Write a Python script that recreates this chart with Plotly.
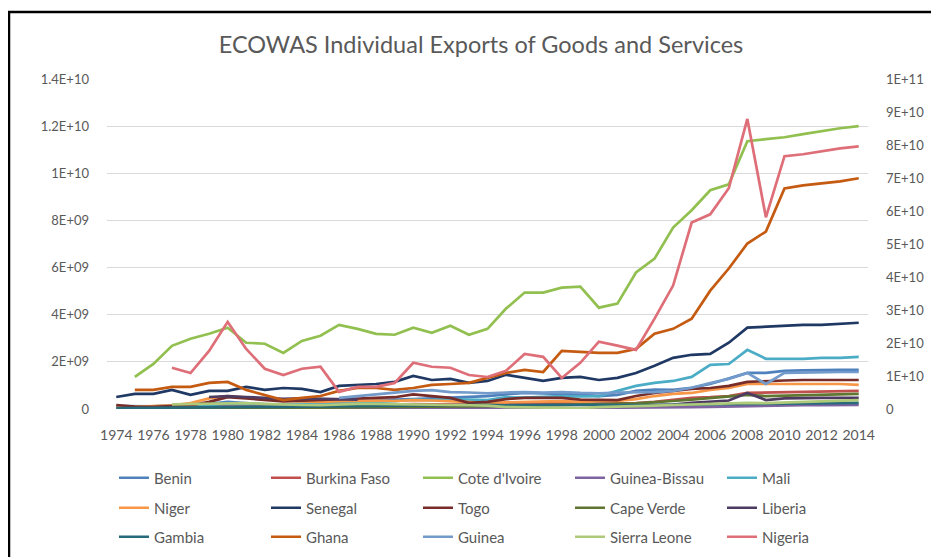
import plotly.graph_objects as go

years = list(range(1974, 2015))

# Exports of goods and services, billions of US$
benin = [0.12, 0.10, 0.11, 0.14, 0.17, 0.22, 0.30, 0.24, 0.20, 0.18, 0.22, 0.25, 0.28, 0.32, 0.36, 0.40,
         0.42, 0.45, 0.48, 0.52, 0.55, 0.62, 0.68, 0.66, 0.64, 0.62, 0.55, 0.60, 0.77, 0.82, 0.81, 0.90,
         1.06, 1.30, 1.53, 1.53, 1.62, 1.64, 1.66, 1.66, 1.66]
burkina_faso = [0.10, 0.09, 0.08, 0.09, 0.10, 0.12, 0.14, 0.13, 0.12, 0.11, 0.12, 0.12, 0.14, 0.16, 0.18,
                0.19, 0.21, 0.20, 0.19, 0.20, 0.18, 0.20, 0.22, 0.24, 0.26, 0.22, 0.22, 0.22, 0.25, 0.30,
                0.40, 0.47, 0.50, 0.55, 0.68, 0.70, 0.72, 0.74, 0.76, 0.77, 0.77]
cote_divoire = [None, 1.36, 1.91, 2.68, 2.98, 3.19, 3.45, 2.81, 2.77, 2.38, 2.89, 3.11, 3.57, 3.40, 3.19,
                3.15, 3.45, 3.23, 3.53, 3.15, 3.40, 4.26, 4.94, 4.94, 5.15, 5.19, 4.30, 4.47, 5.79, 6.38,
                7.70, 8.43, 9.28, 9.53, 11.36, 11.45, 11.53, 11.66, 11.79, 11.91, 12.00]
guinea_bissau = [0.01, 0.01, 0.01, 0.01, 0.01, 0.01, 0.01, 0.01, 0.01, 0.01, 0.01, 0.01, 0.02, 0.02, 0.02,
                 0.02, 0.02, 0.02, 0.02, 0.02, 0.03, 0.03, 0.03, 0.04, 0.03, 0.04, 0.05, 0.05, 0.05, 0.06,
                 0.07, 0.08, 0.09, 0.11, 0.13, 0.14, 0.15, 0.16, 0.16, 0.17, 0.17]
mali = [0.08, 0.10, 0.12, 0.15, 0.14, 0.17, 0.22, 0.20, 0.18, 0.19, 0.21, 0.22, 0.25, 0.28, 0.31, 0.33,
        0.40, 0.38, 0.42, 0.40, 0.38, 0.50, 0.48, 0.52, 0.55, 0.53, 0.55, 0.77, 0.98, 1.11, 1.19, 1.36,
        1.87, 1.91, 2.51, 2.13, 2.13, 2.13, 2.17, 2.17, 2.21]
niger = [0.06, 0.08, 0.10, 0.15, 0.25, 0.45, 0.55, 0.48, 0.40, 0.35, 0.32, 0.30, 0.33, 0.35, 0.36, 0.34,
         0.38, 0.36, 0.33, 0.30, 0.26, 0.28, 0.30, 0.30, 0.33, 0.30, 0.34, 0.34, 0.42, 0.55, 0.64, 0.68,
         0.81, 0.89, 1.06, 1.06, 1.06, 1.06, 1.06, 1.06, 1.02]
senegal = [0.51, 0.64, 0.64, 0.81, 0.60, 0.77, 0.77, 0.94, 0.81, 0.89, 0.85, 0.72, 0.98, 1.02, 1.06, 1.15,
           1.40, 1.23, 1.28, 1.11, 1.19, 1.45, 1.32, 1.19, 1.32, 1.36, 1.23, 1.32, 1.53, 1.83, 2.17, 2.30,
           2.34, 2.81, 3.45, 3.49, 3.53, 3.57, 3.57, 3.62, 3.66]
togo = [0.17, 0.10, 0.09, 0.12, 0.15, 0.30, 0.50, 0.45, 0.38, 0.32, 0.35, 0.38, 0.40, 0.42, 0.45, 0.50,
        0.62, 0.55, 0.47, 0.26, 0.30, 0.42, 0.47, 0.47, 0.47, 0.40, 0.38, 0.38, 0.55, 0.68, 0.77, 0.85,
        0.89, 0.98, 1.15, 1.19, 1.21, 1.23, 1.23, 1.23, 1.23]
cape_verde = [None, None, None, 0.02, 0.02, 0.03, 0.03, 0.04, 0.04, 0.05, 0.05, 0.06, 0.07, 0.08, 0.09,
              0.10, 0.10, 0.11, 0.11, 0.12, 0.12, 0.13, 0.14, 0.16, 0.17, 0.19, 0.20, 0.22, 0.24, 0.28,
              0.34, 0.40, 0.47, 0.55, 0.60, 0.55, 0.57, 0.60, 0.62, 0.62, 0.64]
liberia = [None, None, None, None, None, 0.51, 0.55, 0.51, 0.47, 0.43, 0.45, 0.43, 0.40, 0.40, None,
           None, None, None, None, None, None, None, None, None, None, None, 0.10, 0.12, 0.14, 0.17,
           0.19, 0.26, 0.30, 0.36, 0.68, 0.38, 0.45, 0.47, 0.47, 0.47, 0.47]
gambia = [0.04, 0.05, 0.05, 0.06, 0.07, 0.07, 0.08, 0.08, 0.09, 0.09, 0.10, 0.10, 0.11, 0.12, 0.13, 0.14,
          0.15, 0.16, 0.17, 0.17, 0.18, 0.16, 0.17, 0.18, 0.19, 0.19, 0.18, 0.17, 0.16, 0.17, 0.18, 0.19,
          0.20, 0.21, 0.22, 0.24, 0.25, 0.26, 0.26, 0.26, 0.26]
ghana = [None, 0.81, 0.81, 0.94, 0.94, 1.11, 1.15, 0.81, 0.60, 0.38, 0.47, 0.55, 0.77, 0.89, 0.89, 0.81,
         0.89, 1.02, 1.06, 1.11, 1.32, 1.53, 1.66, 1.57, 2.47, 2.43, 2.38, 2.38, 2.55, 3.19, 3.40, 3.83,
         5.02, 5.96, 7.02, 7.53, 9.36, 9.49, 9.57, 9.66, 9.79]
guinea = [None, None, None, None, None, None, None, None, None, None, None, None, 0.47, 0.55, 0.62, 0.70,
          0.77, 0.80, 0.72, 0.70, 0.66, 0.70, 0.72, 0.70, 0.72, 0.68, 0.66, 0.70, 0.70, 0.72, 0.77, 0.90,
          1.10, 1.28, 1.53, 1.06, 1.53, 1.55, 1.57, 1.57, 1.57]
sierra_leone = [None, None, None, 0.20, 0.22, 0.24, 0.26, 0.25, 0.22, 0.18, 0.17, 0.16, 0.20, 0.22, 0.22,
                0.20, 0.21, 0.19, 0.17, 0.16, 0.14, 0.08, 0.07, 0.05, 0.05, 0.04, 0.08, 0.09, 0.11, 0.14,
                0.17, 0.19, 0.22, 0.25, 0.26, 0.25, 0.28, 0.30, 0.34, 0.36, 0.38]
nigeria = [None, None, None, 12.5, 10.9, 17.6, 26.4, 18.2, 12.2, 10.3, 12.2, 12.8, 5.2, 6.7, 6.7, 7.9,
           14.0, 12.8, 12.5, 10.3, 9.7, 11.6, 16.7, 15.8, 9.4, 14.0, 20.4, 19.2, 17.9, 27.4, 37.4, 56.5,
           59.0, 66.9, 87.9, 58.1, 76.6, 77.2, 78.1, 79.0, 79.6]  # secondary axis

names = ["Benin", "Burkina Faso", "Cote d'Ivoire", "Guinea-Bissau", "Mali",
         "Niger", "Senegal", "Togo", "Cape Verde", "Liberia",
         "Gambia", "Ghana", "Guinea", "Sierra Leone", "Nigeria"]
series = [benin, burkina_faso, cote_divoire, guinea_bissau, mali,
          niger, senegal, togo, cape_verde, liberia,
          gambia, ghana, guinea, sierra_leone, nigeria]
colors = ["#4F81BD", "#C0504D", "#92C050", "#8064A2", "#4BACC6",
          "#F79646", "#1F3864", "#772C2A", "#5F7530", "#4D3B62",
          "#276A7C", "#C55A11", "#729ACA", "#AFC97A", "#DE6E78"]
secondary = ["Nigeria"]

left_tickvals = [0, 2, 4, 6, 8, 10, 12, 14]
left_ticktext = ["0", "2E+09", "4E+09", "6E+09", "8E+09", "1E+10", "1.2E+10", "1.4E+10"]
right_tickvals = [0, 10, 20, 30, 40, 50, 60, 70, 80, 90, 100]
right_ticktext = ["0", "1E+10", "2E+10", "3E+10", "4E+10", "5E+10", "6E+10", "7E+10", "8E+10", "9E+10", "1E+11"]

FONT = "Lato, 'Open Sans', sans-serif"
GREY = "#595959"

fig = go.Figure()
legend_ids = ["legend", "legend2", "legend3"]
for i, (name, vals, col) in enumerate(zip(names, series, colors)):
    fig.add_trace(go.Scatter(
        x=years, y=vals, name=name, mode="lines",
        line=dict(color=col, width=2.7),
        yaxis="y2" if name in secondary else "y",
        legend=legend_ids[i // 5],
        connectgaps=False,
    ))

# the page body has an 8px margin: the figure is drawn 8px right/down
OFF = 8
W, H = 939 - OFF, 557 - OFF
L, R, T, B = 107 - OFF, 71, 79 - OFF, 148
pw, ph = W - L - R, H - T - B

def px_x(p):  # p: pixel in screenshot coordinates
    return (p - OFF - L) / pw

def px_y(p):
    return (H - B - (p - OFF)) / ph

legend_common = dict(orientation="h", xanchor="left", yanchor="middle",
                     font=dict(family=FONT, size=15, color=GREY),
                     entrywidth=107, entrywidthmode="pixels",
                     bgcolor="rgba(0,0,0,0)", itemwidth=30)

fig.update_layout(
    width=W, height=H,
    margin=dict(l=L, r=R, t=T, b=B, autoexpand=False),
    paper_bgcolor="white", plot_bgcolor="white",
    font=dict(family=FONT, color=GREY),
    title=dict(text="ECOWAS Individual Exports of Goods and Services",
               x=(481 - OFF) / W, xanchor="center", y=1 - (45 - OFF) / H, yanchor="middle",
               font=dict(family=FONT, size=23.5, color=GREY)),
    xaxis=dict(range=[1973.5, 2014.5], tick0=1974, dtick=2, showgrid=False,
               zeroline=False, showline=False, ticks="", automargin=False,
               tickfont=dict(family=FONT, size=14, color=GREY),
               ticklabelstandoff=16),
    yaxis=dict(range=[0, 14], tickvals=left_tickvals, ticktext=left_ticktext,
               showgrid=True, gridcolor="#D9D9D9", gridwidth=1, automargin=False,
               zeroline=False, showline=False, ticks="",
               tickfont=dict(family=FONT, size=13, color=GREY),
               ticklabelstandoff=17),
    yaxis2=dict(range=[0, 100], tickvals=right_tickvals, ticktext=right_ticktext,
                overlaying="y", side="right", showgrid=False, zeroline=False,
                showline=False, ticks="", automargin=False,
                tickfont=dict(family=FONT, size=13, color=GREY),
                ticklabelstandoff=17),
    legend=dict(x=px_x(114), y=px_y(478), **legend_common),
    legend2=dict(x=px_x(114), y=px_y(508), **legend_common),
    legend3=dict(x=px_x(114), y=px_y(537), **legend_common),
    shapes=[dict(type="rect", xref="paper", yref="paper",
                 x0=px_x(9), x1=px_x(935), y0=px_y(570), y1=px_y(12),
                 line=dict(color="black", width=2.5), fillcolor="rgba(0,0,0,0)",
                 layer="below")],
)

fig.write_html("out.html")
